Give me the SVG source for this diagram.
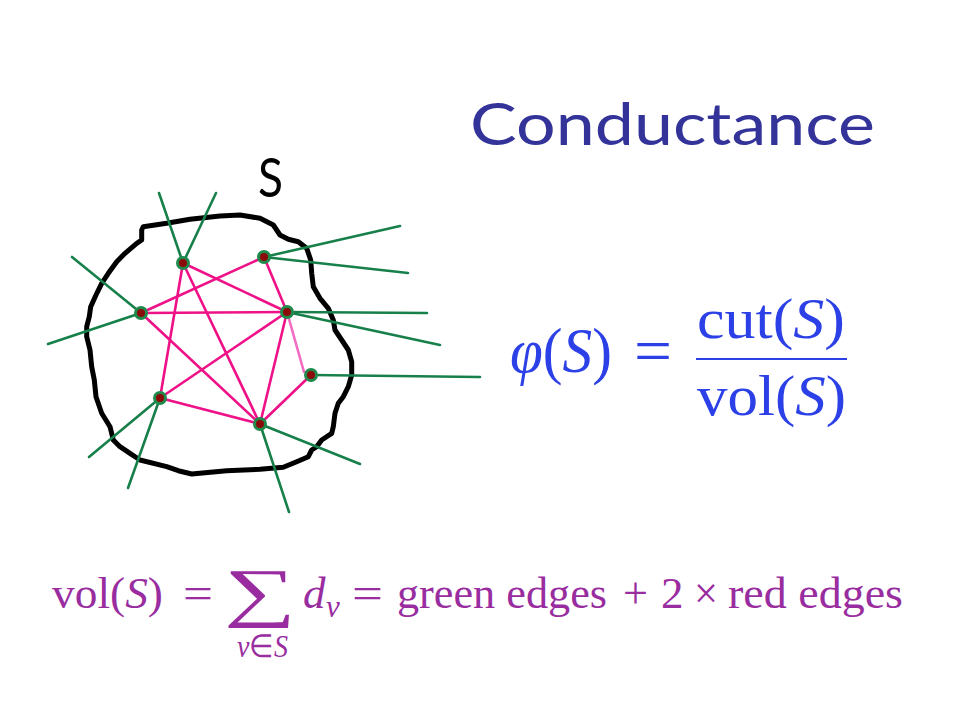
<svg xmlns="http://www.w3.org/2000/svg" width="960" height="720" viewBox="0 0 960 720">
<style>
.green{stroke:#17804a;stroke-width:2.6;stroke-linecap:round;fill:none}
.red{stroke:#ee1188;stroke-width:2.6;stroke-linecap:round;fill:none}
.pink{stroke:#f26cc4;stroke-width:2.6;stroke-linecap:round;fill:none}
.node{fill:#8b0a0a;stroke:#1f8a4c;stroke-width:3}
.blob{fill:none;stroke:#000;stroke-width:5;stroke-linejoin:round;stroke-linecap:round}
.title{font-family:Lato,"Open Sans","DejaVu Sans",sans-serif;fill:#333399}
.m1{font-family:"Liberation Serif","Times New Roman",serif;fill:#2b40e6}
.m2{font-family:"Liberation Serif","Times New Roman",serif;fill:#992d9f}
.it{font-style:italic}
</style>
<rect width="960" height="720" fill="#fff"/>
<g id="title"><text class="title" x="470" y="145" font-size="58" textLength="405" lengthAdjust="spacingAndGlyphs">Conductance</text></g>
<g id="set-label"><text class="title" x="258" y="197" font-size="55" style="fill:#000" textLength="25" lengthAdjust="spacingAndGlyphs">S</text></g>
<g id="set-S">
<path class="blob" d="M141.7,230 L143.3,226.7 L166.7,223.3 L190,219.3 L220,216 L240,215 L260,218.3 L273.3,225 L280,235 L288.3,239.3 L298.3,241.7 L306.7,248.3 L310.7,260 L311.7,273.3 L313.3,286.7 L320,298.3 L328.3,308.3 L333.3,320 L335,330 L341.7,340 L348.3,350 L351.7,361.7 L351.7,375 L348.3,386.7 L343.3,396.7 L338.3,403.3 L335,413.3 L333.3,426.7 L331.7,433.3 L321.7,440 L316.7,446.7 L311.7,450 L308.3,456.7 L296.7,461.7 L283.3,467.3 L260,469.3 L226.7,470.7 L191.7,474 L178.3,470.7 L166.7,466.7 L140,460 L130,453.3 L120,446.7 L113.3,440 L110,426.7 L101.7,413.3 L96,396.7 L94.3,380 L91.7,366.7 L90,350 L86.7,336.7 L86.7,326.7 L89.3,316.7 L90.7,306.7 L96,295 L101.7,283.3 L108.3,273.3 L116.7,261.7 L125,253.3 L136.7,243.3 L141.7,240 Z"/>
</g>
<g id="connectors">
<g id="green-edges">
<line class="green" x1="183" y1="263" x2="159" y2="193"/>
<line class="green" x1="183" y1="263" x2="216" y2="193"/>
<line class="green" x1="264" y1="257" x2="400" y2="226"/>
<line class="green" x1="264" y1="257" x2="408" y2="273"/>
<line class="green" x1="141" y1="313" x2="72" y2="257"/>
<line class="green" x1="141" y1="313" x2="48" y2="344"/>
<line class="green" x1="287" y1="312" x2="427" y2="313"/>
<line class="green" x1="287" y1="312" x2="440" y2="345"/>
<line class="green" x1="311" y1="375" x2="480" y2="377"/>
<line class="green" x1="160" y1="398" x2="89" y2="457"/>
<line class="green" x1="160" y1="398" x2="128" y2="488"/>
<line class="green" x1="260" y1="424" x2="360" y2="464"/>
<line class="green" x1="260" y1="424" x2="289" y2="512"/>
</g>
<g id="red-edges">
<line class="red" x1="183" y1="263" x2="160" y2="398"/>
<line class="red" x1="183" y1="263" x2="260" y2="424"/>
<line class="red" x1="183" y1="263" x2="287" y2="312"/>
<line class="red" x1="264" y1="257" x2="141" y2="313"/>
<line class="red" x1="264" y1="257" x2="287" y2="312"/>
<line class="red" x1="141" y1="313" x2="287" y2="312"/>
<line class="red" x1="141" y1="313" x2="260" y2="424"/>
<line class="red" x1="287" y1="312" x2="160" y2="398"/>
<line class="red" x1="287" y1="312" x2="260" y2="424"/>
<line class="red" x1="311" y1="375" x2="260" y2="424"/>
<line class="red" x1="160" y1="398" x2="260" y2="424"/>
<line class="pink" x1="287" y1="312" x2="304" y2="372"/>
</g>
</g>
<g id="node-a"><circle class="node" cx="183" cy="263" r="5.5"/></g>
<g id="node-b"><circle class="node" cx="264" cy="257" r="5.5"/></g>
<g id="node-c"><circle class="node" cx="141" cy="313" r="5.5"/></g>
<g id="node-d"><circle class="node" cx="287" cy="312" r="5.5"/></g>
<g id="node-e"><circle class="node" cx="311" cy="375" r="5.5"/></g>
<g id="node-f"><circle class="node" cx="160" cy="398" r="5.5"/></g>
<g id="node-g"><circle class="node" cx="260" cy="424" r="5.5"/></g>
<g id="conductance-formula">
<text class="m1" x="510" y="372" font-size="64" textLength="102" lengthAdjust="spacingAndGlyphs"><tspan class="it">φ</tspan>(<tspan class="it">S</tspan>)</text>
<text class="m1" x="634" y="372" font-size="64" textLength="38" lengthAdjust="spacingAndGlyphs">=</text>
<line x1="696" y1="359" x2="847" y2="359" stroke="#2b40e6" stroke-width="2.2"/>
<text class="m1" x="697" y="338" font-size="58" textLength="148" lengthAdjust="spacingAndGlyphs">cut(<tspan class="it">S</tspan>)</text>
<text class="m1" x="697" y="415" font-size="58" textLength="149" lengthAdjust="spacingAndGlyphs">vol(<tspan class="it">S</tspan>)</text>
</g>
<g id="volume-formula">
<text class="m2" x="52" y="608" font-size="45" textLength="111" lengthAdjust="spacingAndGlyphs">vol(<tspan class="it">S</tspan>)</text>
<text class="m2" x="183" y="608" font-size="45" textLength="30" lengthAdjust="spacingAndGlyphs">=</text>
<text class="m2" x="224" y="614" font-size="65" textLength="72" lengthAdjust="spacingAndGlyphs">∑</text>
<text class="m2 it" x="303" y="608" font-size="45">d</text>
<text class="m2 it" x="326" y="617" font-size="31">v</text>
<text class="m2" x="237" y="657" font-size="32" textLength="51" lengthAdjust="spacingAndGlyphs"><tspan class="it">v</tspan>∈<tspan class="it">S</tspan></text>
<text class="m2" x="352" y="608" font-size="45" textLength="31" lengthAdjust="spacingAndGlyphs">=</text>
<text class="m2" x="397" y="608" font-size="45" textLength="210" lengthAdjust="spacingAndGlyphs">green edges</text>
<text class="m2" x="623" y="608" font-size="45" textLength="25" lengthAdjust="spacingAndGlyphs">+</text>
<text class="m2" x="661" y="608" font-size="45">2</text>
<text class="m2" x="694" y="608" font-size="45" textLength="24" lengthAdjust="spacingAndGlyphs">×</text>
<text class="m2" x="728" y="608" font-size="45" textLength="175" lengthAdjust="spacingAndGlyphs">red edges</text>
</g>
</svg>
